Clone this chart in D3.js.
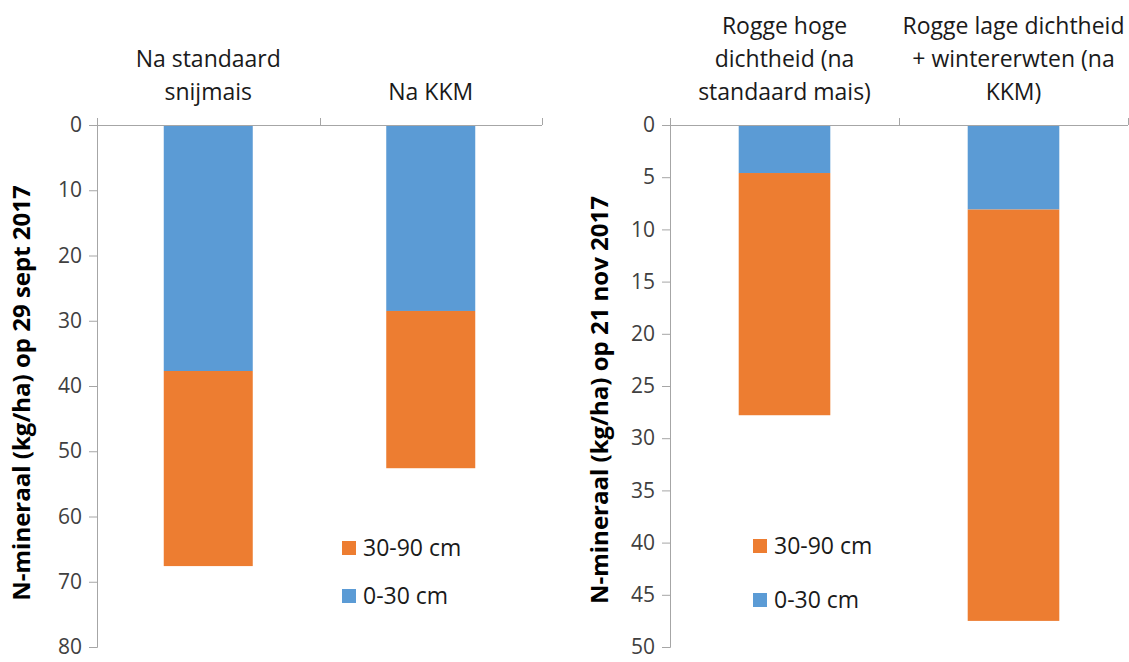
<!DOCTYPE html>
<html>
<head>
<meta charset="utf-8">
<script src="https://cdn.jsdelivr.net/npm/d3@7"></script>
<style>
  html, body { margin: 0; padding: 0; background: #fff; }
  svg text { font-family: "Open Sans", "Noto Sans", sans-serif; }
</style>
</head>
<body>
<svg id="chart" width="1129" height="662"></svg>
<script>
// N-mineral in the soil profile, split by layer, for two sampling dates.
const seriesNames = ["0-30 cm", "30-90 cm"];
const seriesColors = ["#5B9BD5", "#ED7D31"];

// Sampling 29 Sept 2017
const septCategories = [["Na standaard", "snijmais"], ["Na KKM"]];
const septTop = [37.7, 28.5];      // 0-30 cm
const septDeep = [29.9, 24.1];     // 30-90 cm
const septTicks = [0, 10, 20, 30, 40, 50, 60, 70, 80];

// Sampling 21 Nov 2017
const novCategories = [
  ["Rogge hoge", "dichtheid (na", "standaard mais)"],
  ["Rogge lage dichtheid", "+ wintererwten (na", "KKM)"]
];
const novTop = [4.6, 8.1];         // 0-30 cm
const novDeep = [23.2, 39.4];      // 30-90 cm
const novTicks = [0, 5, 10, 15, 20, 25, 30, 35, 40, 45, 50];

const svg = d3.select("#chart");

function panel(opts) {
  const g = svg.append("g");
  const cats = opts.categories.map((c, i) => i);
  const x = d3.scaleBand().domain(cats).range([opts.x0, opts.x1]).padding(0);
  const y = d3.scaleLinear().domain([0, opts.max]).range([opts.y0, opts.y1]);
  const barW = x.bandwidth() / 2.5;

  // stacked bars: 0-30 cm from the axis, 30-90 cm below it
  const rows = cats.map(i => ({ i, top: opts.top[i], deep: opts.deep[i] }));
  const stack = d3.stack().keys(["top", "deep"])(rows);
  stack.forEach((layer, k) => {
    g.selectAll(null).data(layer).enter().append("rect")
      .attr("x", d => x(d.data.i) + (x.bandwidth() - barW) / 2)
      .attr("width", barW)
      .attr("y", d => y(d[0]))
      .attr("height", d => y(d[1]) - y(d[0]))
      .attr("fill", seriesColors[k]);
  });

  // value axis (reversed, 0 at the top)
  const yAxis = d3.axisLeft(y).tickValues(opts.ticks).tickSize(8).tickPadding(7).tickFormat(d3.format("d"));
  const ya = g.append("g").attr("transform", `translate(${opts.x0},0)`).call(yAxis);
  ya.select(".domain").attr("stroke", "#a6a6a6").attr("d", `M-8,${opts.y0 + 0.5}H0.5V${opts.y1 + 0.5}H-8`);
  ya.selectAll(".tick line").attr("stroke", "#a6a6a6");
  ya.selectAll(".tick text").attr("fill", "#404040").style("font-size", "21px");

  // category axis along the top
  const xAxis = d3.axisTop(x).tickSize(0).tickFormat("");
  const xa = g.append("g").attr("transform", `translate(0,${opts.y0 + 0.5})`).call(xAxis);
  xa.select(".domain").attr("stroke", "#a6a6a6").attr("d", `M${opts.x0},0H${opts.x1}`);
  xa.selectAll(".tick").remove();
  const bounds = [opts.x0].concat(cats.map(i => x(i) + x.bandwidth()));
  g.selectAll(null).data(bounds).enter().append("line")
    .attr("x1", d => Math.round(d) + 0.5).attr("x2", d => Math.round(d) + 0.5)
    .attr("y1", opts.y0 - 7).attr("y2", opts.y0)
    .attr("stroke", "#a6a6a6");

  // category labels
  opts.categories.forEach((lines, i) => {
    const t = g.append("text")
      .attr("text-anchor", "middle")
      .attr("fill", "#1a1a1a")
      .style("font-size", "23px");
    const n = lines.length;
    lines.forEach((s, j) => {
      t.append("tspan")
        .attr("x", x(i) + x.bandwidth() / 2)
        .attr("y", opts.labelBase - (n - 1 - j) * 33)
        .text(s);
    });
  });

  // axis title
  g.append("text")
    .attr("transform", `translate(${opts.titleX},${opts.titleY}) rotate(-90)`)
    .attr("text-anchor", "middle")
    .attr("dy", "0.35em")
    .attr("fill", "#000")
    .style("font-size", "24px")
    .style("font-weight", "bold")
    .text(opts.title);

  // legend, 30-90 cm listed first
  const legend = [1, 0];
  legend.forEach((k, j) => {
    const ly = opts.legendY + j * opts.legendGap;
    g.append("rect")
      .attr("x", opts.legendX).attr("y", ly - 7)
      .attr("width", 14).attr("height", 14)
      .attr("fill", seriesColors[k]);
    g.append("text")
      .attr("x", opts.legendX + 21).attr("y", ly)
      .attr("dy", "0.35em")
      .attr("fill", "#1a1a1a")
      .style("font-size", "23px")
      .text(seriesNames[k]);
  });
}

panel({
  categories: septCategories, top: septTop, deep: septDeep, ticks: septTicks, max: 80,
  x0: 97, x1: 542, y0: 125, y1: 647, labelBase: 100,
  title: "N-mineraal (kg/ha) op 29 sept 2017", titleX: 22, titleY: 393,
  legendX: 342, legendY: 548, legendGap: 48
});

panel({
  categories: novCategories, top: novTop, deep: novDeep, ticks: novTicks, max: 50,
  x0: 670, x1: 1128, y0: 125, y1: 647, labelBase: 100,
  title: "N-mineraal (kg/ha) op 21 nov 2017", titleX: 600, titleY: 400,
  legendX: 753, legendY: 546, legendGap: 54
});
</script>
</body>
</html>
